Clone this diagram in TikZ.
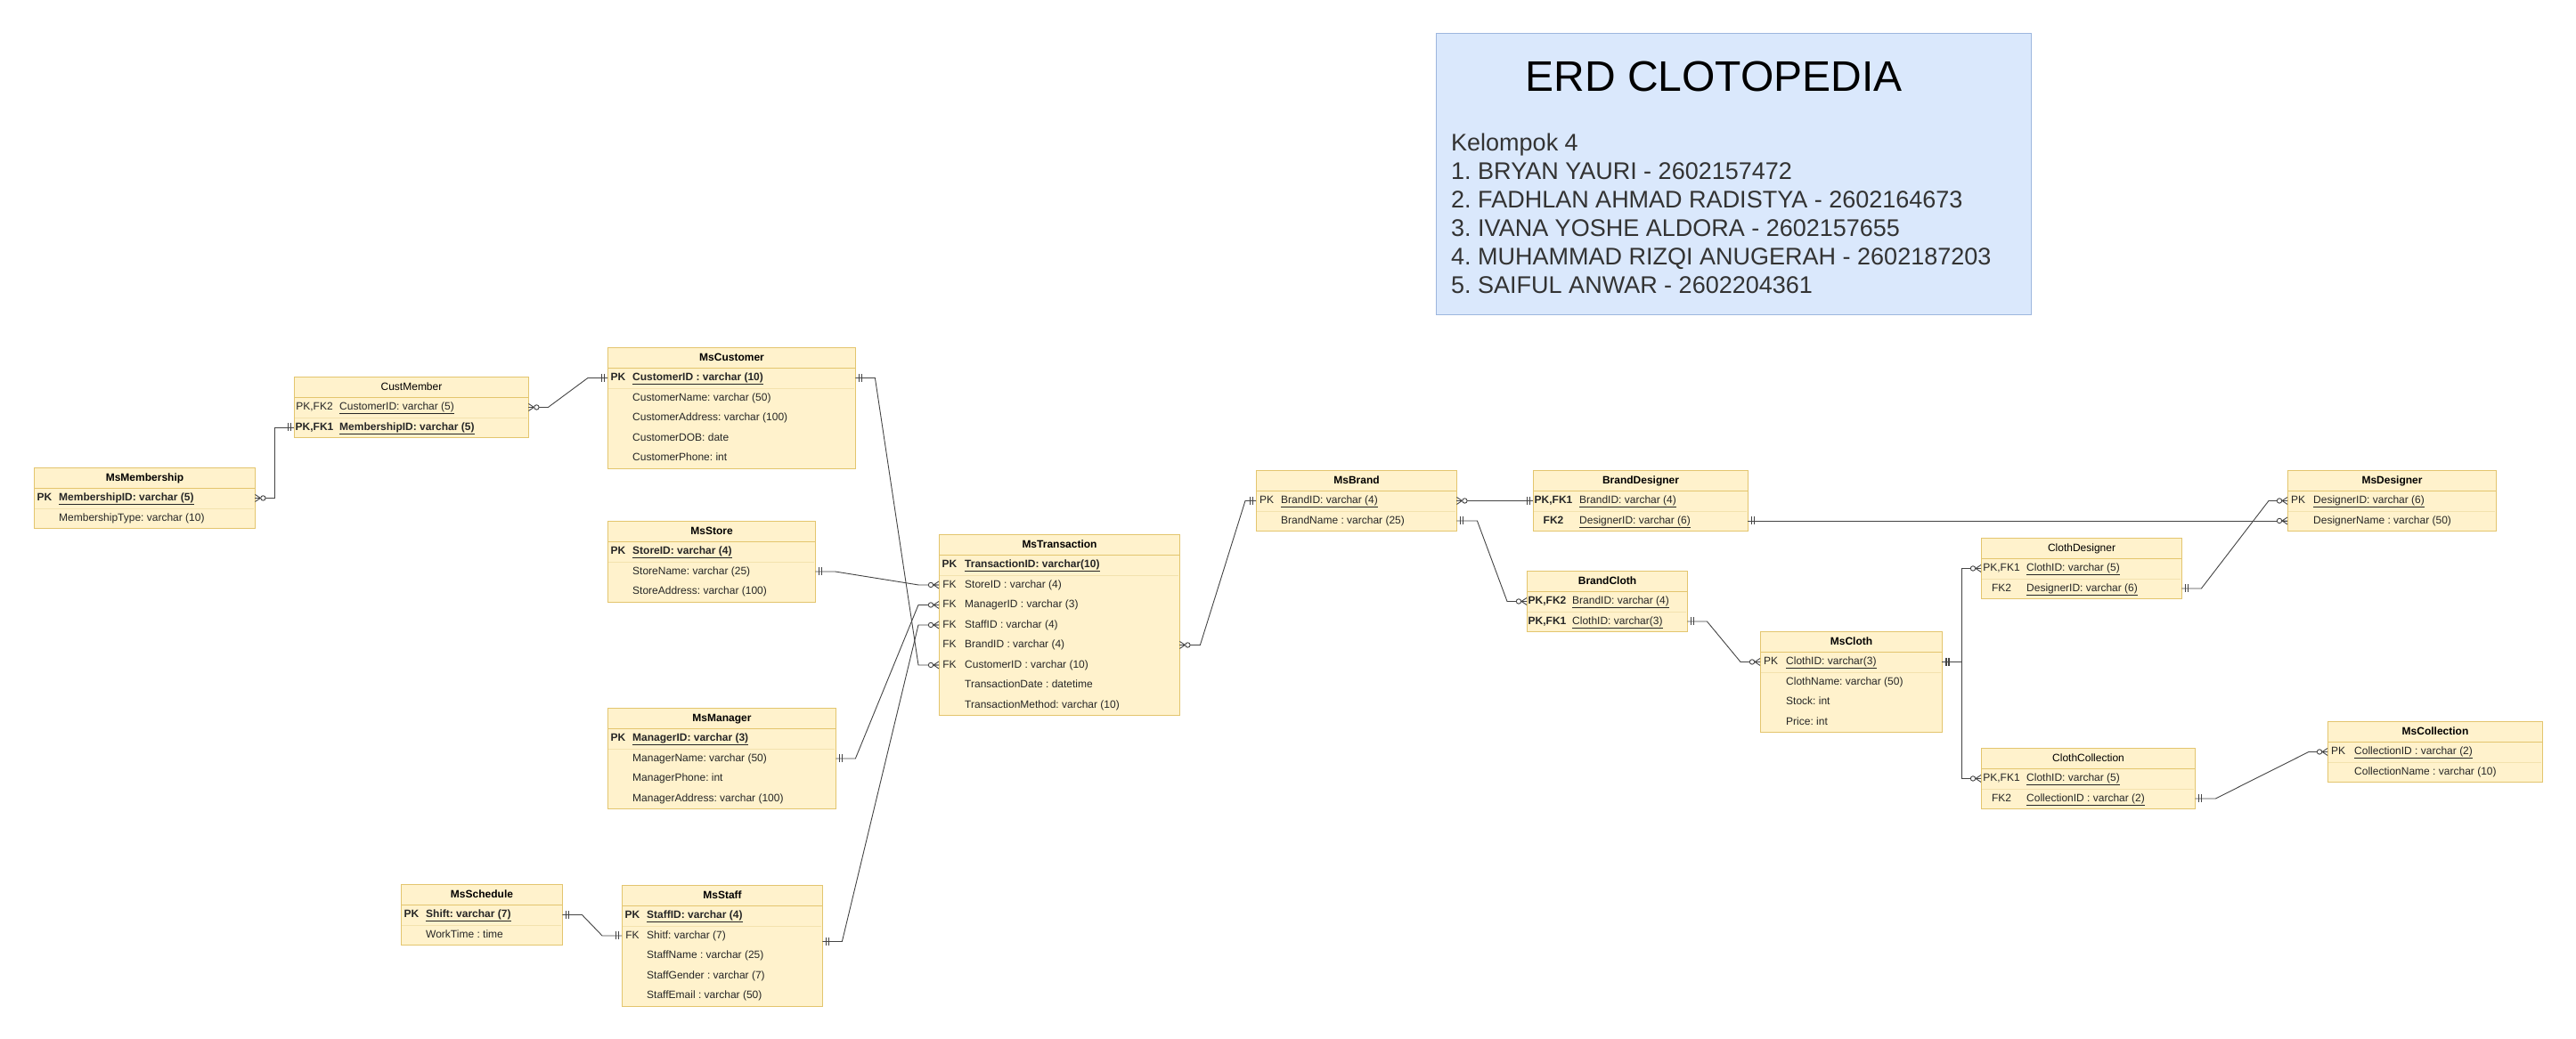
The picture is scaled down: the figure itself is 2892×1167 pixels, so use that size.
\documentclass[tikz,border=0pt]{standalone}
\usepackage{fontspec}
\setmainfont{Liberation Sans}
\usetikzlibrary{calc}
\frenchspacing
\definecolor{tfill}{HTML}{FFF2CC}
\definecolor{tline}{HTML}{E3C56E}
\definecolor{tsep}{HTML}{F3E2AE}
\definecolor{bfill}{HTML}{DAE8FC}
\definecolor{bline}{HTML}{9DB6DE}
\definecolor{cline}{HTML}{444444}
\definecolor{ttext}{HTML}{262626}
\definecolor{mtext}{HTML}{333333}
\tikzset{
  hdr/.style={draw=tline, fill=tfill, line width=1pt, minimum height=23pt, inner sep=0pt, anchor=north west,
    font=\fontsize{12}{14}\selectfont\bfseries, text=black, text height=8.6pt, text depth=2.5pt},
  hdrn/.style={hdr, font=\fontsize{12}{14}\selectfont},
  body/.style={draw=tline, fill=tfill, line width=1pt, inner sep=0pt, anchor=north west},
  rowbox/.style={minimum height=22.5pt, inner sep=0pt, anchor=north west},
  keyt/.style={font=\fontsize{12}{14}\selectfont, inner sep=0pt, text=ttext, text height=8.6pt, text depth=2.5pt},
  fldt/.style={font=\fontsize{12}{14}\selectfont, inner sep=0pt, anchor=west, text=ttext, text height=8.6pt, text depth=2.5pt},
  conn/.style={draw=cline, line width=0.9pt},
  zmR/.pic={\draw[conn] (0,-4)--(6,0) (0,4)--(6,0) (0,0)--(12,0); \draw[conn,fill=white] (9,0) circle[radius=2.7];},
  zmL/.pic={\draw[conn] (0,-4)--(-6,0) (0,4)--(-6,0) (0,0)--(-12,0); \draw[conn,fill=white] (-9,0) circle[radius=2.7];},
  oneR/.pic={\draw[conn] (4,-4.5)--(4,4.5) (7,-4.5)--(7,4.5);},
  oneL/.pic={\draw[conn] (-4,-4.5)--(-4,4.5) (-7,-4.5)--(-7,4.5);},
}
\newcommand\etable[9]{%
  \def\Etn{#1}\def\Etx{#2}\def\Ety{#3}\def\Etw{#4}\def\Ekc{#8}\def\Enx{#9}%
  \node[body, minimum width=#4pt, minimum height=#5*22.5pt] (#1-body) at (#2,{#3+23}) {};
  \node[#7, minimum width=#4pt] (#1) at (#2,#3) {#6};
}
\newcommand\erow[3]{%
  \node[rowbox, minimum width=\Etw pt] (\Etn-#1) at (\Etx,{\Ety+23+(#1-1)*22.5}) {};
  \node[keyt] (\Etn-#1k) at ($(\Etn-#1.west)+(\Ekc,0)$) {#2};
  \node[fldt] (\Etn-#1f) at ($(\Etn-#1.west)+(\Enx,0)$) {#3};
}
\newcommand\pksep{\draw[tsep, line width=0.8pt] ($(\Etn-1.south west)+(1,0)$) -- ($(\Etn-1.south east)+(-1,0)$);}
\newcommand\bu[1]{\textbf{\underline{#1}}}
\begin{document}
\begin{tikzpicture}[x=1pt,y=-1pt]
\fill[white] (0,0) rectangle (2892,1167);
\useasboundingbox (0,0) rectangle (2892,1167);

% title box
\node[draw=bline, fill=bfill, line width=1pt, minimum width=668pt, minimum height=316pt, anchor=north west, inner sep=0pt] (titlebox) at (1612,37) {};
\node[font=\fontsize{48}{56}\selectfont, anchor=base, inner sep=0pt] (title) at (1924,102.5) {ERD CLOTOPEDIA};
\begin{scope}[every node/.style={font=\fontsize{27}{32}\selectfont, anchor=base west, inner sep=0pt, text=mtext}]
\node (m0) at (1629,169.7) {Kelompok 4};
\node (m1) at (1629,201.7) {1. BRYAN YAURI - 2602157472};
\node (m2) at (1629,233.2) {2. FADHLAN AHMAD RADISTYA - 2602164673};
\node (m3) at (1629,265.2) {3. IVANA YOSHE ALDORA - 2602157655};
\node (m4) at (1629,297.2) {4. MUHAMMAD RIZQI ANUGERAH - 2602187203};
\node (m5) at (1629,329.2) {5. SAIFUL ANWAR - 2602204361};
\end{scope}

% tables
\etable{mem}{38}{525}{248}{2}{MsMembership}{hdr}{12}{28}
\erow{1}{\textbf{PK}}{\bu{MembershipID: varchar (5)}}
\erow{2}{}{MembershipType: varchar (10)}
\pksep

\etable{cm}{330}{423}{263}{2}{CustMember}{hdrn}{23}{51}
\erow{1}{PK,FK2}{\underline{CustomerID: varchar (5)}}
\erow{2}{\textbf{PK,FK1}}{\bu{MembershipID: varchar (5)}}
\pksep

\etable{cus}{682}{390}{278}{5}{MsCustomer}{hdr}{12}{28}
\erow{1}{\textbf{PK}}{\bu{CustomerID : varchar (10)}}
\erow{2}{}{CustomerName: varchar (50)}
\erow{3}{}{CustomerAddress: varchar (100)}
\erow{4}{}{CustomerDOB: date}
\erow{5}{}{CustomerPhone: int}
\pksep

\etable{sto}{682}{585}{233}{3}{MsStore}{hdr}{12}{28}
\erow{1}{\textbf{PK}}{\bu{StoreID: varchar (4)}}
\erow{2}{}{StoreName: varchar (25)}
\erow{3}{}{StoreAddress: varchar (100)}
\pksep

\etable{man}{682}{795}{256}{4}{MsManager}{hdr}{12}{28}
\erow{1}{\textbf{PK}}{\bu{ManagerID: varchar (3)}}
\erow{2}{}{ManagerName: varchar (50)}
\erow{3}{}{ManagerPhone: int}
\erow{4}{}{ManagerAddress: varchar (100)}
\pksep

\etable{stf}{698}{994}{225}{5}{MsStaff}{hdr}{12}{28}
\erow{1}{\textbf{PK}}{\bu{StaffID: varchar (4)}}
\erow{2}{FK}{Shitf: varchar (7)}
\erow{3}{}{StaffName : varchar (25)}
\erow{4}{}{StaffGender : varchar (7)}
\erow{5}{}{StaffEmail : varchar (50)}
\pksep

\etable{sch}{450}{993}{181}{2}{MsSchedule}{hdr}{12}{28}
\erow{1}{\textbf{PK}}{\bu{Shift: varchar (7)}}
\erow{2}{}{WorkTime : time}
\pksep

\etable{trx}{1054}{600}{270}{8}{MsTransaction}{hdr}{12}{29}
\erow{1}{\textbf{PK}}{\bu{TransactionID: varchar(10)}}
\erow{2}{FK}{StoreID : varchar (4)}
\erow{3}{FK}{ManagerID : varchar (3)}
\erow{4}{FK}{StaffID : varchar (4)}
\erow{5}{FK}{BrandID : varchar (4)}
\erow{6}{FK}{CustomerID : varchar (10)}
\erow{7}{}{TransactionDate : datetime}
\erow{8}{}{TransactionMethod: varchar (10)}
\pksep

\etable{brd}{1410}{528}{225}{2}{MsBrand}{hdr}{12}{28}
\erow{1}{PK}{\underline{BrandID: varchar (4)}}
\erow{2}{}{BrandName : varchar (25)}
\pksep

\etable{bd}{1721}{528}{241}{2}{BrandDesigner}{hdr}{23}{52}
\erow{1}{\textbf{PK,FK1}}{\underline{BrandID: varchar (4)}}
\erow{2}{\textbf{FK2}}{\underline{DesignerID: varchar (6)}}
\pksep

\etable{bc}{1714}{641}{180}{2}{BrandCloth}{hdr}{23}{51}
\erow{1}{\textbf{PK,FK2}}{\underline{BrandID: varchar (4)}}
\erow{2}{\textbf{PK,FK1}}{\underline{ClothID: varchar(3)}}
\pksep

\etable{clo}{1976}{709}{204}{4}{MsCloth}{hdr}{12}{29}
\erow{1}{PK}{\underline{ClothID: varchar(3)}}
\erow{2}{}{ClothName: varchar (50)}
\erow{3}{}{Stock: int}
\erow{4}{}{Price: int}
\pksep

\etable{cd}{2224}{604}{225}{2}{ClothDesigner}{hdrn}{23}{51}
\erow{1}{PK,FK1}{\underline{ClothID: varchar (5)}}
\erow{2}{FK2}{\underline{DesignerID: varchar (6)}}
\pksep

\etable{cc}{2224}{840}{240}{2}{ClothCollection}{hdrn}{23}{51}
\erow{1}{PK,FK1}{\underline{ClothID: varchar (5)}}
\erow{2}{FK2}{\underline{CollectionID : varchar (2)}}
\pksep

\etable{des}{2568}{528}{234}{2}{MsDesigner}{hdr}{12}{29}
\erow{1}{PK}{\underline{DesignerID: varchar (6)}}
\erow{2}{}{DesignerName : varchar (50)}
\pksep

\etable{col}{2613}{810}{241}{2}{MsCollection}{hdr}{12}{30}
\erow{1}{PK}{\underline{CollectionID : varchar (2)}}
\erow{2}{}{CollectionName : varchar (10)}
\pksep

% connectors
\coordinate (stfc) at ($(stf-2.east)+(0,6.5)$);
\draw[conn] (mem-1.east) -- ++(22,0) |- (cm-2.west);
\draw[conn] (cm-1.east) -- ++(22,0) -- ($(cus-1.west)+(-22,0)$) -- (cus-1.west);
\draw[conn] (cus-1.east) -- ++(22,0) -- ($(trx-6.west)+(-23,0)$) -- (trx-6.west);
\draw[conn] (sto-2.east) -- ++(22,0) -- ($(trx-2.west)+(-23,0)$) -- (trx-2.west);
\draw[conn] (man-2.east) -- ++(22,0) -- ($(trx-3.west)+(-23,0)$) -- (trx-3.west);
\draw[conn] (stfc) -- ++(22,0) -- ($(trx-4.west)+(-23,0)$) -- (trx-4.west);
\draw[conn] (sch-1.east) -- ++(22,0) -- ($(stf-2.west)+(-22,0)$) -- (stf-2.west);
\draw[conn] (trx-5.east) -- ++(23,0) -- ($(brd-1.west)+(-12,0)$) -- (brd-1.west);
\draw[conn] (brd-1.east) -- (bd-1.west);
\draw[conn] (brd-2.east) -- ++(23,0) -- ($(bc-1.west)+(-22,0)$) -- (bc-1.west);
\draw[conn] (bc-2.east) -- ++(22,0) -- ($(clo-1.west)+(-22,0)$) -- (clo-1.west);
\draw[conn] (clo-1.east) -- ++(22,0) |- (cd-1.west);
\draw[conn] (clo-1.east) -- ++(22,0) |- (cc-1.west);
\draw[conn] (bd-2.east) -- (des-2.west);
\draw[conn] (cd-2.east) -- ++(22,0) -- ($(des-1.west)+(-21,0)$) -- (des-1.west);
\draw[conn] (cc-2.east) -- ++(23,0) -- ($(col-1.west)+(-21,0)$) -- (col-1.west);

% end marks
\pic at (mem-1.east) {zmR};   \pic at (cm-2.west) {oneL};
\pic at (cm-1.east) {zmR};    \pic at (cus-1.west) {oneL};
\pic at (cus-1.east) {oneR};  \pic at (trx-6.west) {zmL};
\pic at (sto-2.east) {oneR};  \pic at (trx-2.west) {zmL};
\pic at (man-2.east) {oneR};  \pic at (trx-3.west) {zmL};
\pic at (stfc) {oneR};        \pic at (trx-4.west) {zmL};
\pic at (sch-1.east) {oneR};  \pic at (stf-2.west) {oneL};
\pic at (trx-5.east) {zmR};   \pic at (brd-1.west) {oneL};
\pic at (brd-1.east) {zmR};   \pic at (bd-1.west) {oneL};
\pic at (brd-2.east) {oneR};  \pic at (bc-1.west) {zmL};
\pic at (bc-2.east) {oneR};   \pic at (clo-1.west) {zmL};
\pic at (clo-1.east) {oneR};  \pic at ($(clo-1.east)+(1,0)$) {oneR};
\pic at (cd-1.west) {zmL};    \pic at (cc-1.west) {zmL};
\pic at (bd-2.east) {oneR};   \pic at (des-2.west) {zmL};
\pic at (cd-2.east) {oneR};   \pic at (des-1.west) {zmL};
\pic at (cc-2.east) {oneR};   \pic at (col-1.west) {zmL};
\end{tikzpicture}
\end{document}
